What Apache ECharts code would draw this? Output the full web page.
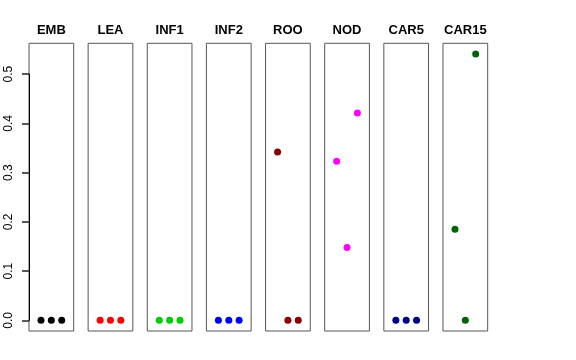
<!DOCTYPE html>
<html><head><meta charset="utf-8">
<script src="https://cdn.jsdelivr.net/npm/echarts@6/dist/echarts.min.js"></script>
<style>html,body{margin:0;padding:0;background:#fff}#c{width:576px;height:360px}</style>
</head><body><div id="c"></div>
<script>
const panels = ['EMB','LEA','INF1','INF2','ROO','NOD','CAR5','CAR15'];
const colors = ['#000000','#ff0000','#00cd00','#0000ff','#8b0000','#ff00ff','#00008b','#006400'];
const xPos = [1, 2, 3];
const EMB = [0, 0, 0];
const LEA = [0, 0, 0];
const INF1 = [0, 0, 0];
const INF2 = [0, 0, 0];
const ROO = [0.342, 0, 0];
const NOD = [0.323, 0.148, 0.421];
const CAR5 = [0, 0, 0];
const CAR15 = [0.185, 0, 0.541];
const values = [EMB, LEA, INF1, INF2, ROO, NOD, CAR5, CAR15];
const yTicks = [0, 0.1, 0.2, 0.3, 0.4, 0.5];

(function () {
const FONT = 'Liberation Sans, Arial, Helvetica, sans-serif';
const left0 = 29, step = 59.14, w = 44.7, gTop = 43.3, gH = 287.7;
const grids = [], xAxes = [], yAxes = [], series = [], graphics = [];
panels.forEach((name, i) => {
  const l = left0 + i * step;
  grids.push({left: l, top: gTop, width: w, height: gH, show: true, borderColor: '#555', borderWidth: 1,
    backgroundColor: 'transparent', outerBoundsMode: 'none', containLabel: false});
  xAxes.push({type: 'value', gridIndex: i, min: -0.16, max: 4.16, show: false});
  yAxes.push({type: 'value', gridIndex: i, min: -0.0216, max: 0.5626, show: false});
  series.push({type: 'scatter', xAxisIndex: i, yAxisIndex: i, symbolSize: 7,
    itemStyle: {color: colors[i], opacity: 1},
    data: values[i].map((v, k) => [xPos[k], v])});
  graphics.push({type: 'text', x: l + w / 2, y: 30, style: {text: name, x: 0, y: 0, align: 'center', verticalAlign: 'middle', font: 'bold 13px ' + FONT, fill: '#000'}});
});
// Axis grid: tick region x 22..29, value range 0..0.5
const ai = panels.length;
const yMin = yTicks[0], yMax = yTicks[yTicks.length - 1];
grids.push({left: 22, top: 74.1, width: 7, height: 246.3, show: false, outerBoundsMode: 'none', containLabel: false});
xAxes.push({type: 'value', gridIndex: ai, show: false, min: 0, max: 1});
yAxes.push({type: 'value', gridIndex: ai, position: 'left', min: yMin, max: yMax, interval: 0.1,
  axisLine: {show: false},
  axisTick: {show: false},
  splitLine: {show: true, lineStyle: {color: '#222', width: 1.5, type: 'solid', opacity: 1}},
  axisLabel: {show: true, rotate: 90, margin: 7, fontSize: 12, fontFamily: FONT, color: '#000',
    formatter: v => v.toFixed(1)}});
yAxes.push({type: 'value', gridIndex: ai, position: 'right', min: yMin, max: yMax, interval: 0.1,
  axisLine: {show: true, onZero: false, lineStyle: {color: '#000', width: 1}},
  axisTick: {show: false}, axisLabel: {show: false}, splitLine: {show: false}});

const chart = echarts.init(document.getElementById('c'), null, {renderer: 'canvas'});
chart.setOption({
  animation: false,
  backgroundColor: '#fff',
  grid: grids, xAxis: xAxes, yAxis: yAxes, series: series,
  graphic: graphics
});
})();
</script></body></html>
